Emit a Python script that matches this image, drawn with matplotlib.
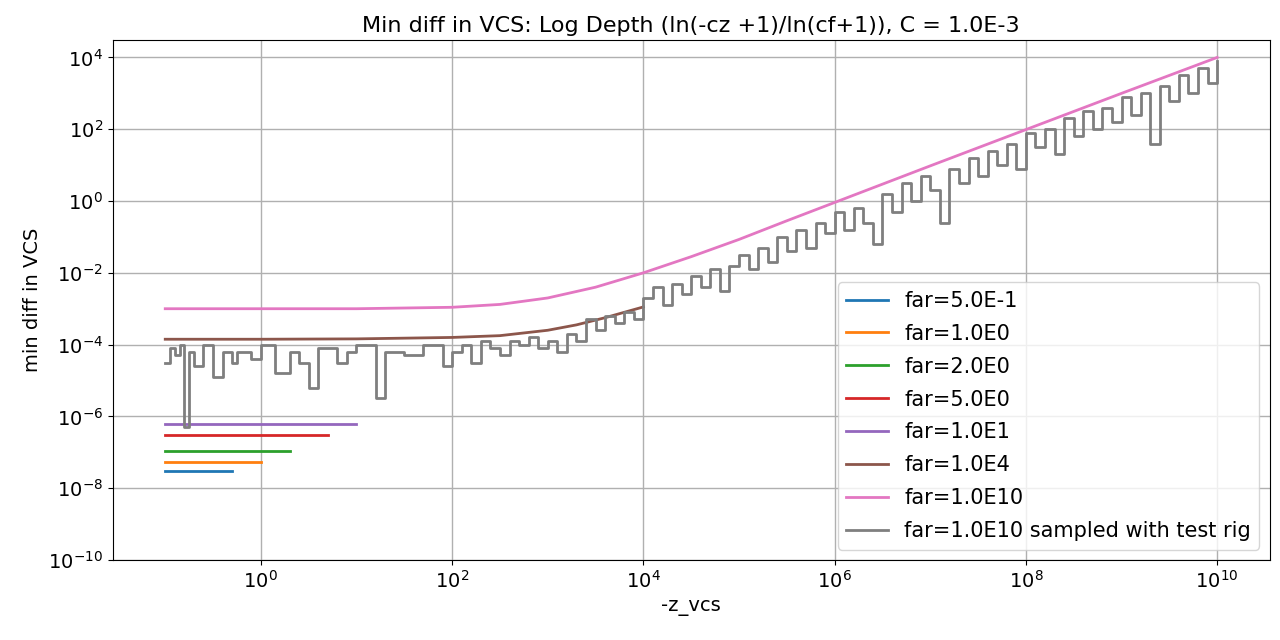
import numpy as np
import matplotlib
matplotlib.use("Agg")
import matplotlib.pyplot as plt

Z_START = 0.1

# constant min diff per far plane (short flat lines)
flat_labels = ["far=5.0E-1", "far=1.0E0", "far=2.0E0", "far=5.0E0", "far=1.0E1"]
flat_far = [0.5, 1.0, 2.0, 5.0, 10.0]
flat_vals = [3e-8, 5.5e-8, 1.1e-7, 3.0e-7, 6.0e-7]

# far=1.0E4 curve (log10 z, log10 y)
brown_logz = [-1, 0, 1, 2, 2.5, 3, 3.3, 3.6, 3.8, 4.0]
brown_logy = [-3.85, -3.85, -3.84, -3.8, -3.75, -3.6, -3.45, -3.25, -3.1, -2.95]

# far=1.0E10 curve (log10 z, log10 y)
pink_logz = [-1, 0, 1, 2, 2.5, 3, 3.5, 4, 4.5, 5, 5.5, 6, 7, 8, 9, 10]
pink_logy = [-3.0, -3.0, -3.0, -2.96, -2.88, -2.7, -2.4, -2.0, -1.55, -1.07, -0.55, -0.04, 0.98, 1.99, 3.0, 4.0]

# far=1.0E10 sampled with test rig (log10 z, log10 y)
gray_logz = [-1.0, -0.95, -0.9, -0.85, -0.8, -0.75, -0.7, -0.6, -0.5, -0.4, -0.3, -0.25, -0.1, 0.0,
             0.15, 0.3, 0.4, 0.5, 0.6, 0.8, 0.9, 1.0, 1.2, 1.3, 1.5, 1.7, 1.9,
             2.0, 2.1, 2.2, 2.3, 2.4, 2.5, 2.6, 2.7, 2.8, 2.9, 3.0, 3.1, 3.2, 3.3, 3.4, 3.5, 3.6, 3.7, 3.8, 3.9,
             4.0, 4.1, 4.2, 4.3, 4.4, 4.5, 4.6, 4.7, 4.8, 4.9, 5.0, 5.1, 5.2, 5.3, 5.4, 5.5, 5.6, 5.7, 5.8, 5.9,
             6.0, 6.1, 6.2, 6.3, 6.4, 6.5, 6.6, 6.7, 6.8, 6.9, 7.0, 7.1, 7.2, 7.3, 7.4, 7.5, 7.6, 7.7, 7.8, 7.9,
             8.0, 8.1, 8.2, 8.3, 8.4, 8.5, 8.6, 8.7, 8.8, 8.9, 9.0, 9.1, 9.2, 9.3, 9.4, 9.5, 9.6, 9.7, 9.8, 9.9, 10.0]
gray_logy = [-4.5, -4.1, -4.3, -4.0, -6.3, -4.2, -4.6, -4.0, -4.9, -4.2, -4.5, -4.2, -4.4, -4.0,
             -4.8, -4.2, -4.5, -5.2, -4.1, -4.5, -4.2, -4.0, -5.5, -4.2, -4.3, -4.0, -4.6,
             -4.2, -4.0, -4.5, -3.9, -4.1, -4.3, -3.9, -4.0, -3.8, -4.1, -3.9, -4.2, -3.7, -3.9, -3.3, -3.6, -3.2, -3.4, -3.1, -3.3,
             -2.7, -2.4, -2.9, -2.3, -2.6, -2.1, -2.4, -1.9, -2.5, -1.8, -1.5, -1.9, -1.3, -1.7, -1.0, -1.4, -0.8, -1.3, -0.6, -0.9,
             -0.3, -0.8, -0.2, -0.6, -1.2, 0.2, -0.3, 0.5, 0.0, 0.7, 0.3, -0.6, 0.9, 0.5, 1.2, 0.7, 1.4, 1.0, 1.6, 0.9,
             1.9, 1.5, 2.0, 1.3, 2.3, 1.8, 2.5, 2.0, 2.6, 2.2, 2.9, 2.4, 3.0, 1.6, 3.2, 2.8, 3.5, 3.0, 3.7, 3.3, 3.9]

colors = ["#1f77b4", "#ff7f0e", "#2ca02c", "#d62728", "#9467bd"]

fig, ax = plt.subplots(figsize=(12.8, 6.4), dpi=100)
for lab, far, val, c in zip(flat_labels, flat_far, flat_vals, colors):
    ax.plot([Z_START, far], [val, val], color=c, lw=2, label=lab)
ax.plot(10 ** np.array(brown_logz), 10 ** np.array(brown_logy), color="#8c564b", lw=2, label="far=1.0E4")
ax.plot(10 ** np.array(pink_logz), 10 ** np.array(pink_logy), color="#e377c2", lw=2, label="far=1.0E10")
ax.step(10 ** np.array(gray_logz), 10 ** np.array(gray_logy), where="post", color="#7f7f7f", lw=2,
        label="far=1.0E10 sampled with test rig")

ax.set_xscale("log")
ax.set_yscale("log")
ax.set_xlim(10 ** -1.55, 10 ** 10.55)
ax.set_ylim(1e-10, 3e4)
ax.set_xticks([10.0 ** k for k in range(0, 11, 2)])
ax.set_yticks([10.0 ** k for k in range(-10, 5, 2)])
ax.minorticks_off()
ax.grid(True, color="#b0b0b0", lw=1)
ax.tick_params(labelsize=14)
ax.set_xlabel("-z_vcs", fontsize=14)
ax.set_ylabel("min diff in VCS", fontsize=14)
ax.set_title("Min diff in VCS: Log Depth (ln(-cz +1)/ln(cf+1)), C = 1.0E-3", fontsize=16)
ax.legend(loc="lower right", fontsize=15, labelspacing=0.62)

fig.subplots_adjust(left=0.088, right=0.992, top=0.937, bottom=0.125)
fig.savefig("out.png", dpi=100)
